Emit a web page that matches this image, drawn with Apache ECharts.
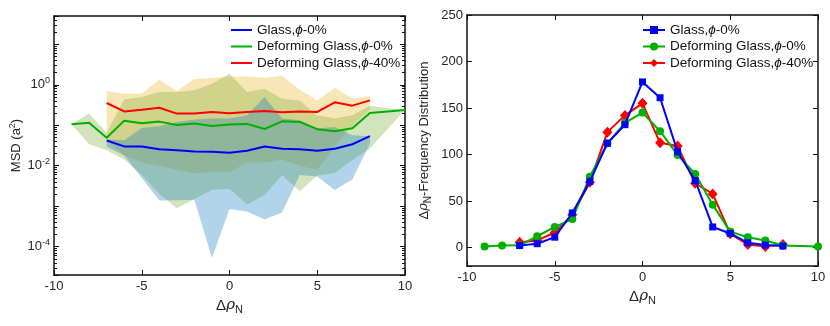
<!DOCTYPE html>
<html>
<head>
<meta charset="utf-8">
<script src="https://cdn.jsdelivr.net/npm/echarts@6/dist/echarts.min.js"></script>
<style>
  html, body { margin: 0; padding: 0; background: #fff; }
  #main { width: 830px; height: 326px; }
</style>
</head>
<body>
<div id="main"></div>
<script>
// x positions (Δρ_N)
const rhoLong = [-9, -8, -7, -6, -5, -4, -3, -2, -1, 0, 1, 2, 3, 4, 5, 6, 7, 8, 10];
const rhoShort = [-7, -6, -5, -4, -3, -2, -1, 0, 1, 2, 3, 4, 5, 6, 7, 8];

// left panel: MSD (a^2), mean line + shaded range
const msdGlass = [0.042, 0.030, 0.030, 0.0257, 0.0243, 0.0225, 0.0221, 0.0209, 0.0234, 0.030, 0.0262, 0.0257, 0.0234, 0.0262, 0.034, 0.0537];
const msdGlassHi = [0.0444, 0.0428, 0.0859, 0.0945, 0.121, 0.138, 0.146, 0.146, 0.176, 0.50, 0.146, 0.133, 0.083, 0.091, 0.057, 0.0537];
const msdGlassLo = [0.03, 0.018, 0.005, 0.00138, 0.0014, 0.00145, 0.0000525, 0.00085, 0.00074, 0.00047, 0.0007, 0.0059, 0.0054, 0.0025, 0.0046, 0.035];

const msdDef0 = [0.106, 0.116, 0.049, 0.13, 0.112, 0.123, 0.102, 0.11, 0.096, 0.104, 0.108, 0.081, 0.125, 0.121, 0.08, 0.071, 0.084, 0.201, 0.238];
const msdDef0Hi = [0.106, 0.194, 0.065, 0.43, 0.50, 0.66, 0.66, 0.73, 1.06, 1.86, 0.66, 0.80, 0.45, 0.41, 0.176, 0.146, 0.176, 0.30, 0.238];
const msdDef0Lo = [0.106, 0.034, 0.0243, 0.0143, 0.006, 0.002, 0.00089, 0.0015, 0.0025, 0.0027, 0.0011, 0.0019, 0.0059, 0.0023, 0.0057, 0.0066, 0.0138, 0.0267, 0.238];

const msdDef40 = [0.355, 0.22, 0.243, 0.27, 0.194, 0.194, 0.213, 0.197, 0.213, 0.225, 0.209, 0.22, 0.213, 0.368, 0.305, 0.412];
const msdDef40Hi = [0.70, 0.60, 0.61, 1.33, 0.70, 1.38, 1.46, 1.60, 1.60, 1.49, 1.66, 0.75, 0.41, 0.84, 0.45, 0.53];
const msdDef40Lo = [0.045, 0.018, 0.012, 0.01, 0.008, 0.0065, 0.007, 0.007, 0.012, 0.012, 0.014, 0.01, 0.008, 0.03, 0.1, 0.25];

// right panel: frequency distribution
const freqGlass = [2, 4, 11, 37, 71, 112, 132, 178, 161, 103, 72, 22, 15, 5, 2.5, 1.5];
const freqDef0 = [1, 2, 2.3, 12, 22, 30.5, 76, 112, 134, 145, 125, 99.5, 79, 46, 17, 11, 7.5, 2, 1];
const freqDef40 = [5.5, 7.5, 16, 35, 70, 124, 142, 155, 112.5, 109, 69, 57.5, 14.7, 3, 1, 3];

const names = ['Glass,ϕ-0%', 'Deforming Glass,ϕ-0%', 'Deforming Glass,ϕ-40%'];
const yTicksLeft = [-4, -2, 0];

const FONT = 'Liberation Sans, Arial, Helvetica, sans-serif';
const TXT = '#262626';

function pairs(xs, ys) {
    return xs.map((x, i) => [x, ys[i]]);
}

// shaded range as one polygon, placed through the axes
function band(xs, lo, hi, color) {
    return {
        type: 'custom',
        xAxisIndex: 0,
        yAxisIndex: 0,
        silent: true,
        z: 1,
        data: [[xs[0], hi[0]]],
        renderItem: function (params, api) {
            let pts = [];
            for (let i = 0; i < xs.length; i++) pts.push(api.coord([xs[i], hi[i]]));
            for (let i = xs.length - 1; i >= 0; i--) pts.push(api.coord([xs[i], lo[i]]));
            return { type: 'polygon', shape: { points: pts }, style: { fill: color } };
        }
    };
}

function legendText(name) {
    let t = name.trim();
    let k = t.indexOf('ϕ');
    return '{a|' + t.slice(0, k) + '}{i|ϕ}{a|' + t.slice(k + 1) + '}';
}

const legendRich = {
    a: { fontSize: 13.5, fontFamily: FONT, color: '#111' },
    i: { fontSize: 13.5, fontFamily: FONT, fontStyle: 'italic', color: '#111' }
};

const rhoName = '{d|Δ}{r|ρ}{s|N}';
const rhoRich = {
    d: { fontSize: 15, fontFamily: FONT, color: TXT },
    r: { fontSize: 15, fontFamily: 'DejaVu Serif, serif', fontStyle: 'italic', color: TXT },
    s: { fontSize: 11, fontFamily: FONT, color: TXT, padding: [9, 0, 0, 0] }
};

const boxLine = { show: true, onZero: false, lineStyle: { color: '#111', width: 1.5 } };
const tickIn = { inside: true, length: 5, lineStyle: { color: '#111' } };

let myChart = echarts.init(document.getElementById('main'), null, { renderer: 'canvas' });

let option = {
    animation: false,
    backgroundColor: '#fff',
    grid: [
        { left: 54, top: 16, width: 351, height: 259 },
        { left: 467, top: 15, width: 351, height: 251 }
    ],
    legend: [
        {
            data: names,
            left: 225, top: 18, orient: 'vertical', padding: 5,
            itemWidth: 21, itemHeight: 14, itemGap: 2.5,
            itemStyle: { opacity: 0 },
            formatter: legendText,
            textStyle: { rich: legendRich }
        },
        {
            data: names.map(n => n + ' '),
            left: 637, top: 18, orient: 'vertical', padding: 5,
            itemWidth: 22, itemHeight: 10, itemGap: 2.5,
            formatter: legendText,
            textStyle: { rich: legendRich }
        }
    ],
    xAxis: [
        {
            gridIndex: 0, type: 'value', min: -10, max: 10, interval: 5,
            name: rhoName, nameLocation: 'middle', nameGap: 18,
            nameTextStyle: { rich: rhoRich },
            axisLine: boxLine,
            axisTick: tickIn,
            axisLabel: { color: TXT, fontSize: 13, fontFamily: FONT, margin: 5 },
            splitLine: { show: false }
        },
        {
            gridIndex: 0, type: 'value', position: 'top', min: -10, max: 10, interval: 5,
            axisLine: boxLine,
            axisTick: tickIn,
            axisLabel: { show: false },
            splitLine: { show: false }
        },
        {
            gridIndex: 1, type: 'value', min: -10, max: 10, interval: 5,
            name: rhoName, nameLocation: 'middle', nameGap: 14,
            nameTextStyle: { rich: rhoRich },
            axisLine: boxLine,
            axisTick: tickIn,
            axisLabel: { color: TXT, fontSize: 13, fontFamily: FONT, margin: 5 },
            splitLine: { show: false }
        },
        {
            gridIndex: 1, type: 'value', position: 'top', min: -10, max: 10, interval: 5,
            axisLine: boxLine,
            axisTick: tickIn,
            axisLabel: { show: false },
            splitLine: { show: false }
        }
    ],
    yAxis: [
        {
            gridIndex: 0, type: 'log', logBase: 10, min: 2e-5, max: 50,
            name: '{n|MSD (a}{e|2}{n|)}', nameLocation: 'middle', nameGap: 30,
            nameTextStyle: {
                rich: {
                    n: { fontSize: 13, fontFamily: FONT, color: TXT },
                    e: { fontSize: 9, fontFamily: FONT, color: TXT, padding: [0, 0, 7, 0] }
                }
            },
            axisLine: boxLine,
            axisTick: tickIn,
            minorTick: { show: true, splitNumber: 9, length: 3, lineStyle: { color: '#111' } },
            axisLabel: {
                margin: 4,
                formatter: function (v) {
                    let e = Math.round(Math.log10(v));
                    if (Math.abs(Math.log10(v) - e) > 1e-6 || yTicksLeft.indexOf(e) < 0) return '';
                    return '{b|10}{e|' + e + '}';
                },
                rich: {
                    b: { fontSize: 13, fontFamily: FONT, color: TXT },
                    e: { fontSize: 9, fontFamily: FONT, color: TXT, padding: [0, 0, 8, 0] }
                }
            },
            splitLine: { show: false }
        },
        {
            gridIndex: 0, type: 'log', logBase: 10, min: 2e-5, max: 50, position: 'right',
            axisLine: boxLine,
            axisTick: tickIn,
            minorTick: { show: true, splitNumber: 9, length: 3, lineStyle: { color: '#111' } },
            axisLabel: { show: false },
            splitLine: { show: false }
        },
        {
            gridIndex: 1, type: 'value', min: -20, max: 250, splitNumber: 5,
            name: '{d|Δ}{r|ρ}{s|N}{d|-Frequency Distribution}', nameLocation: 'middle', nameGap: 34,
            nameTextStyle: {
                rich: {
                    d: { fontSize: 13, fontFamily: FONT, color: TXT },
                    r: { fontSize: 13, fontFamily: 'DejaVu Serif, serif', fontStyle: 'italic', color: TXT },
                    s: { fontSize: 10, fontFamily: FONT, color: TXT, padding: [8, 0, 0, 0] }
                }
            },
            axisLine: boxLine,
            axisTick: tickIn,
            axisLabel: {
                color: TXT, fontSize: 13, fontFamily: FONT, margin: 4,
                formatter: v => (v < 0 ? '' : String(v))
            },
            splitLine: { show: false }
        },
        {
            gridIndex: 1, type: 'value', min: -20, max: 250, splitNumber: 5, position: 'right',
            axisLine: boxLine,
            axisTick: tickIn,
            axisLabel: { show: false },
            splitLine: { show: false }
        }
    ],
    series: [
        band(rhoShort, msdDef40Lo, msdDef40Hi, 'rgba(237,177,32,0.32)'),
        band(rhoLong, msdDef0Lo, msdDef0Hi, 'rgba(119,172,48,0.32)'),
        band(rhoShort, msdGlassLo, msdGlassHi, 'rgba(0,114,189,0.30)'),
        {
            name: names[0], type: 'line', xAxisIndex: 0, yAxisIndex: 0, z: 5,
            data: pairs(rhoShort, msdGlass), symbol: 'none',
            lineStyle: { color: '#0000ff', width: 2 }, itemStyle: { color: '#0000ff' }
        },
        {
            name: names[1], type: 'line', xAxisIndex: 0, yAxisIndex: 0, z: 5,
            data: pairs(rhoLong, msdDef0), symbol: 'none',
            lineStyle: { color: '#00b000', width: 2 }, itemStyle: { color: '#00b000' }
        },
        {
            name: names[2], type: 'line', xAxisIndex: 0, yAxisIndex: 0, z: 5,
            data: pairs(rhoShort, msdDef40), symbol: 'none',
            lineStyle: { color: '#ff0000', width: 2 }, itemStyle: { color: '#ff0000' }
        },
        {
            name: names[2] + ' ', type: 'line', xAxisIndex: 2, yAxisIndex: 2, z: 3,
            data: pairs(rhoShort, freqDef40), symbol: 'diamond', symbolSize: [10, 11],
            lineStyle: { color: '#ff0000', width: 2 }, itemStyle: { color: '#ff0000' }
        },
        {
            name: names[1] + ' ', type: 'line', xAxisIndex: 2, yAxisIndex: 2, z: 4,
            data: pairs(rhoLong, freqDef0), symbol: 'circle', symbolSize: 8,
            lineStyle: { color: '#00b000', width: 2 }, itemStyle: { color: '#00b000' }
        },
        {
            name: names[0] + ' ', type: 'line', xAxisIndex: 2, yAxisIndex: 2, z: 5,
            data: pairs(rhoShort, freqGlass), symbol: 'rect', symbolSize: 7,
            lineStyle: { color: '#0000ff', width: 2 }, itemStyle: { color: '#0000ff' }
        }
    ]
};

myChart.setOption(option);
</script>
</body>
</html>
